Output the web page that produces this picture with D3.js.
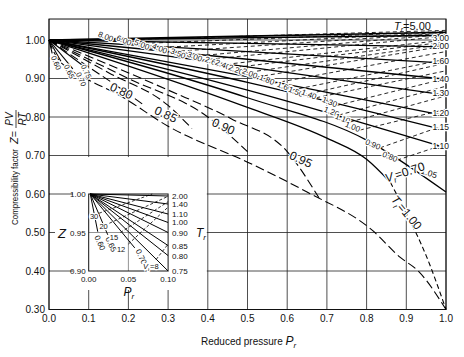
<!DOCTYPE html>
<html><head><meta charset="utf-8">
<script src="https://cdn.jsdelivr.net/npm/d3@7"></script>
<style>
body{margin:0;background:#fff}
svg{display:block}
text{font-family:"Liberation Sans",Arial,sans-serif;fill:#111}
</style></head>
<body><svg id="c" width="464" height="357"></svg>
<script>
// ---------- data ----------
const xTicks = [0,0.1,0.2,0.3,0.4,0.5,0.6,0.7,0.8,0.9,1.0];
const yTicks = [0.3,0.4,0.5,0.6,0.7,0.8,0.9,1.0];

// reduced-temperature isotherms (solid), [Pr, Z]
const trLabels = ["5.00","3.00","2.00","1.60","1.40","1.30","1.20","1.15","1.10","1.05"];
const trPts = [
  [[0,1],[0.5,1.010],[1,1.020]],
  [[0,1],[0.5,1.006],[1,1.012]],
  [[0,1],[0.5,0.991],[1,0.982]],
  [[0,1],[0.5,0.970],[1,0.940]],
  [[0,1],[0.5,0.950],[1,0.898]],
  [[0,1],[0.5,0.930],[1,0.857]],
  [[0,1],[0.5,0.905],[1,0.803]],
  [[0,1],[0.5,0.890],[1,0.765]],
  [[0,1],[0.5,0.870],[1,0.720]],
  [[0,1],[0.5,0.850],[0.8,0.740],[1,0.605]]
];
// label anchor positions [Pr, Z] for the T_r labels
const trLabelPos = [null,[1.0,1.005],[1.0,0.985],[1.0,0.945],[1.0,0.900],[1.0,0.862],[1.0,0.810],[1.0,0.773],[1.0,0.725],[0.955,0.655]];
const tr100Solid = [[0,1],[0.5,0.825],[0.7,0.745],[0.8,0.690],[0.86,0.630]];
const tr100Dash  = [[0.86,0.630],[0.9,0.550],[0.95,0.440],[1.0,0.300]];

// low-temperature isotherms ending on the saturation line
const lowTrLabels = ["0.60","0.65","0.70","0.75"];
const lowTrPts = [
  [[0,1],[0.008,0.965]],
  [[0,1],[0.03,0.945]],
  [[0,1],[0.06,0.925]],
  [[0,1],[0.09,0.930]]
];
const lowTrLabelPos = [[0.012,0.938],[0.045,0.915],[0.075,0.895],[0.088,0.915]];

const subTrLabels = ["0.80","0.85","0.90","0.95"];
const subTrPts = [
  [[0,1],[0.1,0.93],[0.2,0.86],[0.24,0.83]],
  [[0,1],[0.15,0.915],[0.3,0.83],[0.36,0.77]],
  [[0,1],[0.2,0.90],[0.4,0.80],[0.5,0.71]],
  [[0,1],[0.3,0.87],[0.46,0.795],[0.6,0.71],[0.68,0.59]]
];
const subTrLabelPos = [[0.178,0.858],[0.29,0.797],[0.435,0.766],[0.63,0.68]];

// saturated-vapour curve (long dash)
const satPts = [[0,1],[0.005,0.985],[0.02,0.955],[0.05,0.925],[0.1,0.896],[0.176,0.857],
  [0.3,0.776],[0.506,0.68],[0.65,0.605],[0.814,0.506],[0.884,0.436],[0.93,0.40],[1.0,0.30]];

// ideal reduced volume lines (short dash): label, start [Pr,Z], end Z at Pr=1
const vrLabels = ["8.00","6.00","5.00","4.00","3.50","3.00","2.60","2.40","2.20","2.00","1.80","1.60","1.50","1.40","1.30","1.20","1.10","1.00","0.90","0.80"];
const vrStart = [[0.161,1.0],[0.207,0.99],[0.252,0.979],[0.297,0.969],[0.343,0.956],[0.385,0.948],[0.43,0.935],[0.456,0.927],[0.489,0.914],[0.524,0.904],[0.567,0.888],[0.612,0.87],[0.64,0.857],[0.673,0.85],[0.725,0.83],[0.73,0.805],[0.758,0.787],[0.783,0.766],[0.834,0.72],[0.877,0.688]];
const vrEndZ = [1.025,1.022,1.02,1.018,1.015,1.01,1.0,0.995,0.99,0.985,0.97,0.95,0.94,0.92,0.90,0.88,0.855,0.82,0.78,0.73];

// inset (Pr 0-0.1, Z 0.90-1.00)
const insetTrLabels = ["2.00","1.40","1.10","1.00","0.90","0.85","0.80","0.75"];
const insetTrEndZ = [0.9974,0.987,0.974,0.963,0.950,0.933,0.920,0.900];
const insetLowLabels = ["0.60","0.65","0.70"];
const insetLowEnd = [[0.0114,0.951],[0.024,0.947],[0.058,0.93]];
const insetLowLabelPos = [[0.011,0.935],[0.025,0.933],[0.063,0.917]];
const insetVrLabels = ["30","20","15","12","8"];
const insetVrStart = [[0.013,0.975],[0.026,0.962],[0.04,0.95],[0.05,0.935],[0.085,0.915]];
const insetVrEnd = [[0.08,1.0],[0.1,0.997],[0.1,0.99],[0.1,0.983],[0.1,0.935]];
const insetVrLabelPos = [[0.012,0.972],[0.024,0.959],[0.037,0.944],[0.046,0.928],[0.088,0.907]];
const insetXTicks = [0,0.05,0.1];
const insetYTicks = [0.9,0.95,1.0];

// ---------- drawing ----------
const svg = d3.select("#c");
const x = d3.scaleLinear().domain([0,1]).range([49,446]);
const y = d3.scaleLinear().domain([0.3,1.0]).range([309.5,40]);
const yTop = 1.0545;
const line = d3.line().x(d=>x(d[0])).y(d=>y(d[1])).curve(d3.curveMonotoneX);
function halo(sel){return sel.attr("stroke","#fff").attr("stroke-width",2.5).attr("paint-order","stroke");}

// grid
const g = svg.append("g");
g.selectAll(".vg").data(xTicks).join("line")
  .attr("x1",d=>x(d)).attr("x2",d=>x(d)).attr("y1",y(yTop)).attr("y2",y(0.3))
  .attr("stroke","#222").attr("stroke-width",0.8);
g.selectAll(".hg").data(yTicks).join("line")
  .attr("x1",x(0)).attr("x2",x(1)).attr("y1",d=>y(d)).attr("y2",d=>y(d))
  .attr("stroke","#222").attr("stroke-width",0.8);
svg.append("rect").attr("x",x(0)).attr("y",y(yTop)).attr("width",x(1)-x(0)).attr("height",y(0.3)-y(yTop))
  .attr("fill","none").attr("stroke","#111").attr("stroke-width",1);

const lines = svg.append("g").attr("fill","none").attr("stroke","#000");
vrStart.forEach((s,i)=>{
  lines.append("path").attr("d",line([s,[1.0,vrEndZ[i]]]))
    .attr("stroke-width",0.85).attr("stroke-dasharray","4,3");
});
trPts.forEach((p,i)=>{
  lines.append("path").attr("d",line(p)).attr("stroke-width",i<2?1.6:1.3);
});
lines.append("path").attr("d",line(tr100Solid)).attr("stroke-width",1.3);
lines.append("path").attr("d",line(tr100Dash)).attr("stroke-width",1.1).attr("stroke-dasharray","5,3");
lowTrPts.forEach(p=>{
  lines.append("path").attr("d",line(p)).attr("stroke-width",1.1);
});
subTrPts.forEach(p=>{
  lines.append("path").attr("d",line(p)).attr("stroke-width",1.1).attr("stroke-dasharray","9,4");
});
lines.append("path").attr("d",line(satPts)).attr("stroke-width",1.1).attr("stroke-dasharray","9,4");

// labels on main chart
const lab = svg.append("g");
trLabels.forEach((t,i)=>{
  const p = trLabelPos[i];
  if(p===null) return;
  const inside = p[0] < 1.0;
  halo(lab.append("text").attr("font-size",8.5)
    .attr("transform",`translate(${inside?x(p[0]):449},${y(p[1])+3}) rotate(${inside?18:0})`)
    .attr("text-anchor",inside?"middle":"end").text(t));
});
const t5 = lab.append("text").attr("x",394).attr("y",30).attr("font-size",11);
t5.append("tspan").attr("font-style","italic").text("T");
t5.append("tspan").attr("font-size",7).attr("dy",2).attr("font-style","italic").text("r");
t5.append("tspan").attr("dy",-2).text("=5.00");

vrLabels.forEach((t,i)=>{
  const s = vrStart[i];
  halo(lab.append("text").attr("font-size",8)
    .attr("transform",`translate(${x(s[0])-1},${y(s[1])+2}) rotate(22)`)
    .attr("text-anchor","end").text(t));
});
lowTrLabels.forEach((t,i)=>{
  const p = lowTrLabelPos[i];
  halo(lab.append("text").attr("font-size",7.5)
    .attr("transform",`translate(${x(p[0])},${y(p[1])}) rotate(65)`).attr("text-anchor","middle").text(t));
});
subTrLabels.forEach((t,i)=>{
  const p = subTrLabelPos[i];
  halo(lab.append("text").attr("font-size",12)
    .attr("transform",`translate(${x(p[0])},${y(p[1])}) rotate(25)`).attr("text-anchor","middle").text(t));
});
const v7 = halo(lab.append("text").attr("font-size",12).attr("transform",`translate(${x(0.85)},${y(0.63)}) rotate(-18)`));
v7.append("tspan").attr("font-style","italic").text("V");
v7.append("tspan").attr("font-size",8).attr("dy",3).attr("font-style","italic").text("r");
v7.append("tspan").attr("dy",-3).text("=0.70");
const t1 = halo(lab.append("text").attr("font-size",12).attr("transform",`translate(${x(0.86)},${y(0.585)}) rotate(50)`));
t1.append("tspan").attr("font-style","italic").text("T");
t1.append("tspan").attr("font-size",8).attr("dy",3).attr("font-style","italic").text("r");
t1.append("tspan").attr("dy",-3).text("=1.00");

// axes labels
svg.selectAll(".xt").data(xTicks).join("text").attr("x",d=>x(d)).attr("y",322)
  .attr("text-anchor","middle").attr("font-size",10).text(d=>d.toFixed(1));
svg.selectAll(".yt").data(yTicks).join("text").attr("x",45).attr("y",d=>y(d)+3.5)
  .attr("text-anchor","end").attr("font-size",10).text(d=>d.toFixed(2));
const xl = svg.append("text").attr("x",201).attr("y",345).attr("font-size",10);
xl.append("tspan").text("Reduced pressure ");
xl.append("tspan").attr("font-style","italic").attr("font-size",12).text("P");
xl.append("tspan").attr("font-style","italic").attr("font-size",8).attr("dy",3).text("r");

const yl = svg.append("g").attr("transform","translate(18,225) rotate(-90)");
yl.append("text").attr("x",0).attr("y",0).attr("font-size",9).attr("textLength",76).attr("lengthAdjust","spacingAndGlyphs").text("Compressibility factor");
const yz = yl.append("text").attr("x",81).attr("y",0).attr("font-size",11);
yz.append("tspan").attr("font-style","italic").text("Z");
yz.append("tspan").text("=");
yl.append("text").attr("x",106).attr("y",-5).attr("font-size",10).attr("font-style","italic").attr("text-anchor","middle").text("PV");
yl.append("line").attr("x1",97).attr("x2",115).attr("y1",-2).attr("y2",-2).attr("stroke","#111").attr("stroke-width",0.8);
yl.append("text").attr("x",106).attr("y",8).attr("font-size",10).attr("font-style","italic").attr("text-anchor","middle").text("RT");

// ---------- inset ----------
svg.append("rect").attr("x",50).attr("y",y(0.696)).attr("width",x(0.4)-51).attr("height",290-y(0.696)).attr("fill","#fff");
const ix = d3.scaleLinear().domain([0,0.1]).range([x(0.1),x(0.3)]);
const iy = d3.scaleLinear().domain([0.9,1.0]).range([y(0.4),y(0.6)]);
const iline = d3.line().x(d=>ix(d[0])).y(d=>iy(d[1]));
const ins = svg.append("g");
ins.append("line").attr("x1",ix(0.05)).attr("x2",ix(0.05)).attr("y1",iy(0.9)).attr("y2",iy(1.0)).attr("stroke","#888").attr("stroke-width",0.9);
ins.append("line").attr("x1",ix(0)).attr("x2",ix(0.1)).attr("y1",iy(0.95)).attr("y2",iy(0.95)).attr("stroke","#888").attr("stroke-width",0.9);
ins.append("rect").attr("x",ix(0)).attr("y",iy(1.0)).attr("width",ix(0.1)-ix(0)).attr("height",iy(0.9)-iy(1.0))
  .attr("fill","none").attr("stroke","#111").attr("stroke-width",1);
[0.9,1.0].forEach(v=>ins.append("line").attr("x1",x(0)).attr("x2",73).attr("y1",iy(v)).attr("y2",iy(v)).attr("stroke","#222").attr("stroke-width",0.8));
ins.append("line").attr("x1",x(0)).attr("x2",55).attr("y1",iy(0.95)).attr("y2",iy(0.95)).attr("stroke","#222").attr("stroke-width",0.8);
insetVrStart.forEach((s,i)=>{
  ins.append("path").attr("d",iline([s,insetVrEnd[i]])).attr("fill","none").attr("stroke","#000").attr("stroke-width",0.8).attr("stroke-dasharray","3,2");
});
insetTrEndZ.forEach(z=>{
  ins.append("path").attr("d",iline([[0.002,1.0],[0.1,z]])).attr("fill","none").attr("stroke","#000").attr("stroke-width",1);
});
insetLowEnd.forEach(e=>{
  ins.append("path").attr("d",iline([[0.002,1.0],e])).attr("fill","none").attr("stroke","#000").attr("stroke-width",1);
});
insetTrLabels.forEach((t,i)=>{
  ins.append("text").attr("x",ix(0.1)+4).attr("y",iy(insetTrEndZ[i])+3).attr("font-size",8).text(t);
});
insetLowLabels.forEach((t,i)=>{
  const p = insetLowLabelPos[i];
  halo(ins.append("text").attr("font-size",8).attr("text-anchor","middle")
    .attr("transform",`translate(${ix(p[0])},${iy(p[1])}) rotate(65)`).text(t));
});
insetVrLabels.forEach((t,i)=>{
  const p = insetVrLabelPos[i];
  const tx = halo(ins.append("text").attr("font-size",7.5).attr("text-anchor","end").attr("transform",`translate(${ix(p[0])},${iy(p[1])+3})`));
  if(i===4){tx.append("tspan").attr("font-style","italic").text("V");
    tx.append("tspan").attr("font-size",6).attr("dy",2).attr("font-style","italic").text("r");
    tx.append("tspan").attr("dy",-2).text("=8");}
  else tx.text(t);
});
insetXTicks.forEach(v=>ins.append("text").attr("x",ix(v)).attr("y",iy(0.9)+11).attr("text-anchor","middle").attr("font-size",8).text(v.toFixed(2)));
insetYTicks.forEach(v=>ins.append("text").attr("x",ix(0)-3).attr("y",iy(v)+3).attr("text-anchor","end").attr("font-size",8).text(v.toFixed(2)));
ins.append("text").attr("x",58).attr("y",iy(0.95)+5).attr("font-size",13).attr("font-style","italic").text("Z");
const ipr = ins.append("text").attr("x",ix(0.05)-5).attr("y",296).attr("font-size",12).attr("font-style","italic");
ipr.append("tspan").text("P");
ipr.append("tspan").attr("font-size",8).attr("dy",3).text("r");
const itr = ins.append("text").attr("x",196).attr("y",iy(0.95)+4).attr("font-size",12).attr("font-style","italic");
itr.append("tspan").text("T");
itr.append("tspan").attr("font-size",8).attr("dy",3).text("r");
</script></body></html>
